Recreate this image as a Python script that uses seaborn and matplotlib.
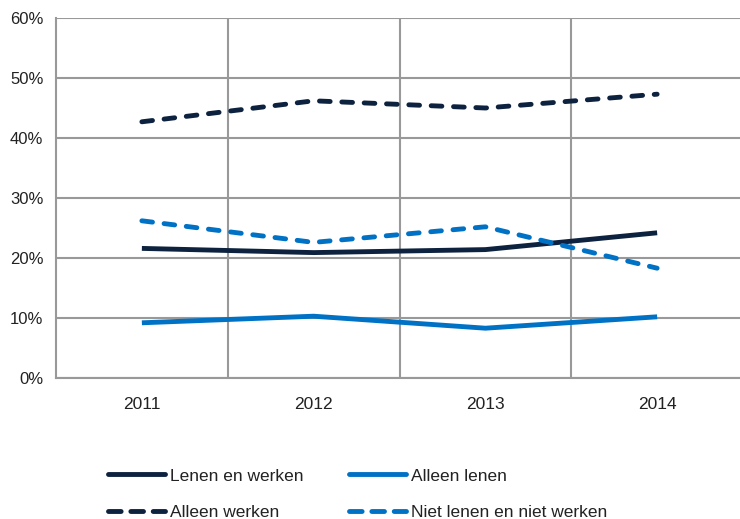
import matplotlib
matplotlib.use("Agg")
import matplotlib.pyplot as plt
import matplotlib.ticker as mticker
from matplotlib.lines import Line2D
import seaborn as sns
import pandas as pd

years = ["2011", "2012", "2013", "2014"]
lenen_en_werken = [21.6, 20.9, 21.4, 24.2]
alleen_lenen = [9.2, 10.3, 8.3, 10.2]
alleen_werken = [42.7, 46.2, 45.0, 47.3]
niet_lenen_niet_werken = [26.2, 22.6, 25.2, 18.3]

series_names = ["Lenen en werken", "Alleen werken", "Alleen lenen", "Niet lenen en niet werken"]
series_values = [lenen_en_werken, alleen_werken, alleen_lenen, niet_lenen_niet_werken]

navy = "#0d223f"
blue = "#0072c6"
palette = {"Lenen en werken": navy, "Alleen werken": navy,
           "Alleen lenen": blue, "Niet lenen en niet werken": blue}
dash_map = {"Lenen en werken": "", "Alleen werken": (2.2, 2.4),
            "Alleen lenen": "", "Niet lenen en niet werken": (2.2, 2.4)}

rows = []
for name, vals in zip(series_names, series_values):
    for i, (yr, v) in enumerate(zip(years, vals)):
        rows.append({"pos": i, "jaar": yr, "reeks": name, "waarde": v})
df = pd.DataFrame(rows)

sns.set_style("white")
plt.rcParams["font.family"] = ["Liberation Sans", "DejaVu Sans"]

fig = plt.figure(figsize=(7.40, 5.19), dpi=100)
ax = fig.add_axes([56 / 740, 141 / 519, 687 / 740, 360 / 519])

lw = 3.5
sns.lineplot(data=df, x="pos", y="waarde", hue="reeks", style="reeks",
             palette=palette, dashes=dash_map, linewidth=lw,
             hue_order=series_names, style_order=series_names,
             legend=False, ax=ax, zorder=3)
for ln in ax.get_lines():
    ln.set_dash_capstyle("round")
    ln.set_solid_capstyle("butt")

grid_col = "#999999"
ax.set_xlim(-0.5, 3.5)
ax.set_ylim(0, 60)
ax.set_xticks(range(len(years)))
ax.set_xticklabels(years)
ax.set_xticks([0.5, 1.5, 2.5], minor=True)
ax.yaxis.set_major_locator(mticker.MultipleLocator(10))
ax.yaxis.set_major_formatter(mticker.FuncFormatter(lambda v, p: f"{int(v)}%"))
ax.grid(False)
ax.yaxis.grid(True, color=grid_col, linewidth=1.5)
ax.xaxis.grid(True, which="minor", color=grid_col, linewidth=1.5)
ax.set_axisbelow(True)
for side in ["top", "right"]:
    ax.spines[side].set_visible(False)
for side in ["left", "bottom"]:
    ax.spines[side].set_color(grid_col)
    ax.spines[side].set_linewidth(1.5)
ax.tick_params(axis="y", which="major", length=5, width=1.5, color=grid_col,
               labelsize=12, labelcolor="#222222", pad=4)
ax.tick_params(axis="x", which="both", length=0, labelsize=12.5,
               labelcolor="#222222", pad=14)
ax.set_xlabel("")
ax.set_ylabel("")

# legend handles: a slightly longer dash so three dashes fill the sample
handles = []
for name in series_names:
    d = dash_map[name]
    h = Line2D([0], [0], color=palette[name], linewidth=lw,
               linestyle=(0, (2.6, 2.0)) if d else "-",
               dash_capstyle="round", solid_capstyle="round")
    handles.append(h)
fig.legend(handles, series_names, ncol=2, loc="lower left",
           bbox_to_anchor=(92 / 740, -17 / 519), frameon=False,
           fontsize=12.5, handlelength=3.3, handletextpad=0.3,
           columnspacing=2.6, labelspacing=1.25, labelcolor="#222222")

fig.savefig("out.png", dpi=100)
